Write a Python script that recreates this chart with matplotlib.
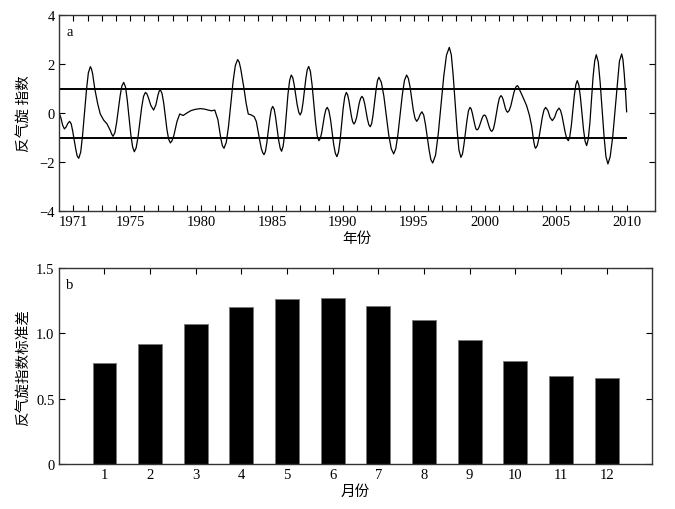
import os

os.environ.setdefault("MPLBACKEND", "Agg")

import matplotlib.pyplot as plt

SERIF = ["Liberation Serif", "Noto Sans CJK SC", "DejaVu Serif"]

# panel a: anticyclone index
years = [
    1970.00, 1970.12, 1970.25, 1970.37, 1970.49, 1970.62, 1970.74, 1970.85, 1970.95, 1971.17,
    1971.27, 1971.38, 1971.52, 1971.65, 1971.93, 1972.06, 1972.20, 1972.28, 1972.36, 1972.51,
    1972.72, 1972.90, 1973.14, 1973.38, 1973.61, 1973.71, 1973.80, 1973.93, 1974.05, 1974.30,
    1974.42, 1974.55, 1974.68, 1974.80, 1975.05, 1975.18, 1975.30, 1975.43, 1975.56, 1975.82,
    1975.95, 1976.08, 1976.18, 1976.27, 1976.47, 1976.66, 1976.82, 1976.97, 1977.05, 1977.13,
    1977.25, 1977.37, 1977.60, 1977.72, 1977.84, 1977.95, 1978.08, 1978.31, 1978.50, 1978.75,
    1979.00, 1979.30, 1979.60, 1979.95, 1980.25, 1980.50, 1980.75, 1980.97, 1981.19, 1981.40,
    1981.51, 1981.62, 1981.78, 1981.94, 1982.26, 1982.42, 1982.58, 1982.69, 1982.80, 1983.03,
    1983.18, 1983.33, 1983.55, 1983.75, 1983.90, 1984.10, 1984.25, 1984.35, 1984.44, 1984.54,
    1984.64, 1984.85, 1984.95, 1985.05, 1985.16, 1985.26, 1985.47, 1985.58, 1985.68, 1985.79,
    1985.91, 1986.13, 1986.25, 1986.36, 1986.47, 1986.57, 1986.78, 1986.89, 1986.99, 1987.09,
    1987.19, 1987.39, 1987.49, 1987.59, 1987.71, 1987.83, 1988.07, 1988.19, 1988.31, 1988.41,
    1988.51, 1988.70, 1988.80, 1988.90, 1989.01, 1989.13, 1989.35, 1989.47, 1989.58, 1989.69,
    1989.80, 1990.02, 1990.13, 1990.24, 1990.33, 1990.42, 1990.60, 1990.69, 1990.78, 1990.87,
    1990.97, 1991.15, 1991.25, 1991.34, 1991.44, 1991.54, 1991.73, 1991.83, 1991.93, 1992.03,
    1992.13, 1992.34, 1992.44, 1992.54, 1992.71, 1992.89, 1993.23, 1993.41, 1993.58, 1993.73,
    1993.88, 1994.19, 1994.34, 1994.49, 1994.61, 1994.73, 1994.96, 1995.08, 1995.20, 1995.32,
    1995.45, 1995.57, 1995.70, 1995.82, 1996.08, 1996.20, 1996.33, 1996.53, 1996.72, 1997.11,
    1997.30, 1997.50, 1997.64, 1997.77, 1998.05, 1998.18, 1998.32, 1998.43, 1998.53, 1998.75,
    1998.85, 1998.96, 1999.04, 1999.12, 1999.29, 1999.37, 1999.45, 1999.54, 1999.62, 1999.80,
    1999.88, 1999.97, 2000.06, 2000.15, 2000.32, 2000.41, 2000.50, 2000.61, 2000.71, 2000.93,
    2001.03, 2001.14, 2001.22, 2001.30, 2001.45, 2001.53, 2001.61, 2001.72, 2001.84, 2002.06,
    2002.18, 2002.29, 2002.37, 2002.45, 2002.65, 2002.95, 2003.15, 2003.30, 2003.45, 2003.52,
    2003.58, 2003.70, 2003.82, 2004.05, 2004.17, 2004.29, 2004.45, 2004.60, 2004.76, 2004.92,
    2005.07, 2005.23, 2005.34, 2005.45, 2005.67, 2005.78, 2005.89, 2005.99, 2006.10, 2006.31,
    2006.42, 2006.52, 2006.63, 2006.74, 2006.96, 2007.07, 2007.18, 2007.29, 2007.41, 2007.63,
    2007.75, 2007.86, 2008.00, 2008.13, 2008.41, 2008.54, 2008.68, 2008.84, 2009.02, 2009.36,
    2009.49, 2009.65, 2009.74, 2009.83, 2009.92, 2010.00,
]
index_values = [
    0.00, -0.19, -0.50, -0.65, -0.57, -0.42, -0.34, -0.44, -0.72, -1.47,
    -1.75, -1.85, -1.60, -0.92, 0.96, 1.64, 1.89, 1.80, 1.60, 1.00,
    0.37, -0.04, -0.29, -0.45, -0.72, -0.87, -0.95, -0.80, -0.40, 0.70,
    1.10, 1.25, 1.06, 0.54, -0.87, -1.39, -1.58, -1.42, -0.98, 0.24,
    0.68, 0.84, 0.79, 0.66, 0.30, 0.12, 0.33, 0.74, 0.89, 0.95,
    0.80, 0.41, -0.68, -1.07, -1.22, -1.14, -0.93, -0.34, -0.04, -0.10,
    0.00, 0.10, 0.15, 0.18, 0.16, 0.12, 0.09, 0.12, -0.27, -1.05,
    -1.34, -1.44, -1.20, -0.54, 1.28, 1.94, 2.18, 2.08, 1.80, 1.00,
    0.40, -0.04, -0.08, -0.15, -0.35, -1.00, -1.45, -1.62, -1.70, -1.57,
    -1.21, -0.22, 0.14, 0.27, 0.15, -0.19, -1.10, -1.44, -1.56, -1.35,
    -0.78, 0.77, 1.34, 1.55, 1.44, 1.14, 0.33, 0.03, -0.08, 0.05,
    0.42, 1.41, 1.77, 1.90, 1.70, 1.14, -0.37, -0.93, -1.13, -1.04,
    -0.79, -0.11, 0.14, 0.23, 0.10, -0.27, -1.28, -1.65, -1.78, -1.60,
    -1.13, 0.19, 0.66, 0.84, 0.75, 0.52, -0.13, -0.36, -0.45, -0.37,
    -0.17, 0.40, 0.60, 0.68, 0.60, 0.37, -0.25, -0.48, -0.56, -0.43,
    -0.06, 0.96, 1.33, 1.46, 1.25, 0.68, -0.89, -1.46, -1.67, -1.45,
    -0.87, 0.75, 1.33, 1.55, 1.42, 1.08, 0.13, -0.21, -0.34, -0.24,
    -0.05, 0.05, -0.09, -0.47, -1.52, -1.90, -2.04, -1.72, -0.86, 1.50,
    2.36, 2.68, 2.38, 1.56, -0.69, -1.51, -1.81, -1.67, -1.30, -0.28,
    0.09, 0.23, 0.17, 0.00, -0.46, -0.64, -0.69, -0.65, -0.54, -0.23,
    -0.12, -0.08, -0.12, -0.25, -0.58, -0.71, -0.75, -0.65, -0.39, 0.35,
    0.61, 0.71, 0.66, 0.54, 0.20, 0.08, 0.03, 0.10, 0.30, 0.85,
    1.05, 1.12, 1.07, 0.95, 0.70, 0.30, -0.10, -0.52, -1.15, -1.36,
    -1.44, -1.33, -1.02, -0.19, 0.12, 0.23, 0.10, -0.18, -0.31, -0.18,
    0.07, 0.20, 0.11, -0.13, -0.80, -1.04, -1.13, -0.97, -0.52, 0.71,
    1.16, 1.32, 1.14, 0.66, -0.67, -1.15, -1.33, -1.08, -0.40, 1.45,
    2.13, 2.38, 2.08, 1.27, -0.97, -1.78, -2.08, -1.78, -0.96, 1.29,
    2.11, 2.41, 2.18, 1.60, 0.85, 0.05,
]
threshold = 1.0
year_labels = [1971, 1975, 1980, 1985, 1990, 1995, 2000, 2005, 2010]

# panel b: standard deviation of the index by month
months = [1, 2, 3, 4, 5, 6, 7, 8, 9, 10, 11, 12]
month_std = [0.77, 0.92, 1.07, 1.20, 1.26, 1.27, 1.21, 1.10, 0.95, 0.79, 0.67, 0.66]


def style_axes(ax):
    for spine in ax.spines.values():
        spine.set_color("#333333")
        spine.set_linewidth(1.0)
    ax.tick_params(which="both", direction="in", length=4, width=0.8,
                   top=True, right=True, labelsize=10.5, pad=3)
    for label in ax.get_xticklabels() + ax.get_yticklabels():
        label.set_family(SERIF)


def draw_index(ax):
    ax.plot(years, index_values, color="black", lw=0.9, solid_joinstyle="round")
    ax.hlines([threshold, -threshold], years[0], years[-1], color="black", lw=1.4)
    ax.set_xlim(1970, 2012)
    ax.set_ylim(-4, 4)
    ax.set_xticks(year_labels)
    ax.set_xticks(range(1971, 2011), minor=True)
    ax.set_yticks([-4, -2, 0, 2, 4])
    ax.set_yticklabels(["\u22124", "\u22122", "0", "2", "4"])
    style_axes(ax)
    ax.text(0.012, 0.95, "a", transform=ax.transAxes, ha="left", va="top",
            family=SERIF, fontsize=10.5)
    ax.set_xlabel("年份", family=SERIF, fontsize=10.5, labelpad=2)
    ax.set_ylabel("反气旋 指数", family=SERIF, fontsize=10.5, labelpad=6)


def draw_monthly_std(ax):
    ax.bar(months, month_std, width=0.52, color="black", edgecolor="#777777", lw=0.6)
    ax.set_xlim(0, 13)
    ax.set_ylim(0, 1.5)
    ax.set_xticks(months)
    ax.set_yticks([0, 0.5, 1.0, 1.5])
    ax.set_yticklabels(["0", "0.5", "1.0", "1.5"])
    style_axes(ax)
    ax.tick_params(which="both", bottom=False)
    ax.text(0.012, 0.95, "b", transform=ax.transAxes, ha="left", va="top",
            family=SERIF, fontsize=10.5)
    ax.set_xlabel("月份", family=SERIF, fontsize=10.5, labelpad=2)
    ax.set_ylabel("反气旋指数标准差", family=SERIF, fontsize=10.5, labelpad=4)


def main():
    fig = plt.figure(figsize=(6.75, 5.1), dpi=100)
    ax_a = fig.add_axes([0.0876, 0.5843, 0.8828, 0.3843])
    ax_b = fig.add_axes([0.0870, 0.0882, 0.8794, 0.3843])
    draw_index(ax_a)
    draw_monthly_std(ax_b)
    fig.savefig("out.png", dpi=100)
    plt.close(fig)


if __name__ == "__main__":
    main()
